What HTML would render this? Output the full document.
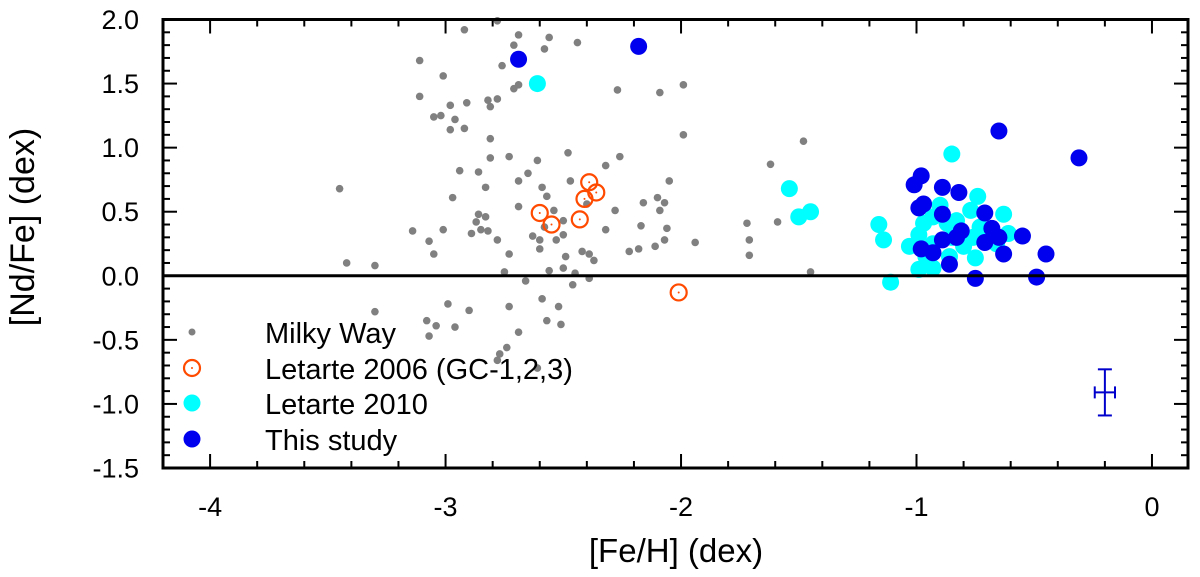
<!DOCTYPE html>
<html><head><meta charset="utf-8"><style>
body{margin:0;background:#fff;}
svg{display:block;font-family:"Liberation Sans",Arial,sans-serif;}
</style></head><body>
<svg id="chart" width="1200" height="577" viewBox="0 0 1200 577" xmlns="http://www.w3.org/2000/svg"></svg>
<script>
const mwX=[-2.78,-2.92,-2.71,-2.69,-2.56,-2.58,-2.44,-3.11,-2.76,-3.01,-2.71,-2.69,-2.27,-2.09,-3.11,-2.98,-2.91,-2.82,-2.78,-2.81,-3.05,-3.02,-2.96,-2.98,-2.92,-2.81,-2.81,-2.73,-2.61,-2.48,-2.26,-2.94,-2.86,-2.65,-2.69,-2.47,-2.32,-2.05,-3.45,-2.83,-2.59,-2.57,-2.40,-2.97,-2.69,-2.54,-2.28,-2.16,-2.10,-2.07,-2.09,-2.86,-2.83,-2.87,-2.85,-2.82,-2.58,-2.50,-2.17,-2.06,-3.14,-3.01,-2.89,-2.78,-2.63,-2.60,-2.53,-2.50,-2.32,-3.07,-3.05,-2.73,-2.60,-2.42,-2.39,-2.37,-2.49,-2.22,-2.18,-2.11,-2.07,-3.42,-3.30,-2.75,-2.56,-2.50,-2.45,-2.66,-2.39,-2.46,-2.99,-2.90,-2.73,-2.59,-2.52,-3.30,-3.08,-3.04,-2.96,-2.57,-2.51,-2.69,-3.07,-2.74,-2.77,-2.78,-2.61,-1.99,-1.99,-1.48,-1.62,-1.72,-1.59,-1.94,-1.71,-1.71,-1.45];
const mwY=[1.99,1.92,1.80,1.88,1.86,1.77,1.82,1.68,1.64,1.56,1.46,1.49,1.45,1.43,1.40,1.33,1.35,1.37,1.38,1.32,1.24,1.25,1.22,1.14,1.15,1.07,0.92,0.93,0.90,0.96,0.93,0.82,0.81,0.80,0.74,0.74,0.86,0.74,0.68,0.69,0.69,0.62,0.56,0.61,0.54,0.51,0.51,0.57,0.61,0.57,0.51,0.48,0.46,0.42,0.36,0.35,0.38,0.43,0.39,0.37,0.35,0.36,0.33,0.28,0.31,0.28,0.28,0.32,0.36,0.27,0.17,0.17,0.21,0.19,0.17,0.12,0.15,0.19,0.21,0.23,0.28,0.10,0.08,0.03,0.04,0.06,0.02,-0.04,-0.02,-0.07,-0.22,-0.27,-0.24,-0.18,-0.24,-0.28,-0.35,-0.39,-0.40,-0.35,-0.38,-0.44,-0.47,-0.56,-0.61,-0.66,-0.72,1.49,1.10,1.05,0.87,0.41,0.42,0.26,0.28,0.16,0.03];
const l06X=[-2.60,-2.55,-2.43,-2.41,-2.39,-2.36,-2.01];
const l06Y=[0.49,0.40,0.44,0.60,0.73,0.65,-0.13];
const l10X=[-2.61,-1.54,-1.50,-1.45,-1.16,-1.14,-1.11,-0.85,-0.74,-0.63,-0.61,-0.75,-0.99,-0.93,-1.03,-0.90,-0.77,-0.80,-0.97,-0.99,-0.87,-0.83,-0.73,-0.93,-0.66,-0.93,-0.76,-0.86,-0.96,-0.85];
const l10Y=[1.50,0.68,0.46,0.50,0.40,0.28,-0.05,0.95,0.62,0.48,0.33,0.14,0.05,0.06,0.23,0.55,0.51,0.23,0.41,0.32,0.41,0.43,0.38,0.46,0.25,0.25,0.30,0.15,0.15,0.30];
const tsX=[-2.69,-2.18,-0.65,-0.31,-0.98,-1.01,-0.89,-0.82,-0.97,-0.99,-0.89,-0.71,-0.68,-0.81,-0.83,-0.55,-0.65,-0.71,-0.89,-0.98,-0.93,-0.45,-0.63,-0.86,-0.75,-0.49];
const tsY=[1.69,1.79,1.13,0.92,0.78,0.71,0.69,0.65,0.56,0.53,0.48,0.49,0.37,0.35,0.30,0.31,0.30,0.26,0.28,0.21,0.18,0.17,0.17,0.09,-0.02,-0.01];
const errX=[-0.20], errY=[-0.91], errDX=[0.043], errDY=[0.18];
const xTicks=[-4,-3,-2,-1,0];
const yTicks=[2.0,1.5,1.0,0.5,0.0,-0.5,-1.0,-1.5];
const legendLabels=["Milky Way","Letarte 2006 (GC-1,2,3)","Letarte 2010","This study"];

const L=163,R=1188,T=19.5,B=468;
const X0=-4.2,X1=0.153,Y0=-1.5,Y1=2.0;
const sx=v=>L+(v-X0)/(X1-X0)*(R-L);
const sy=v=>B-(v-Y0)/(Y1-Y0)*(B-T);
const svg=document.getElementById('chart');
const NS='http://www.w3.org/2000/svg';
function mk(tag,attrs,parent){const e=document.createElementNS(NS,tag);for(const k in attrs)e.setAttribute(k,attrs[k]);(parent||svg).appendChild(e);return e;}

const gMW=mk('g',{});


mwX.forEach((x,i)=>{const c=mk('circle',{cx:sx(x),cy:sy(mwY[i]),r:3.8,fill:'#808080'},gMW);

});
const gL10=mk('g',{});


l10X.forEach((x,i)=>{const c=mk('circle',{cx:sx(x),cy:sy(l10Y[i]),r:8.5,fill:'#00ffff'},gL10);

});
const gTS=mk('g',{});


tsX.forEach((x,i)=>{const c=mk('circle',{cx:sx(x),cy:sy(tsY[i]),r:8.5,fill:'#0000ee'},gTS);

});
const gL06=mk('g',{});


l06X.forEach((x,i)=>{const c=mk('circle',{cx:sx(x),cy:sy(l06Y[i]),r:8,fill:'none',stroke:'#ff4a00','stroke-width':2.2},gL06);


mk('circle',{cx:sx(x),cy:sy(l06Y[i]),r:1,fill:'#ff4a00'},gL06);});

errX.forEach((x,i)=>{const g=mk('g',{stroke:'#0000cc','stroke-width':2});


const cx=sx(x),cy=sy(errY[i]),y1=sy(errY[i]+errDY[i]),y2=sy(errY[i]-errDY[i]);
const x1=sx(x-errDX[i]),x2=sx(x+errDX[i]);
mk('line',{x1:cx,y1:y1,x2:cx,y2:y2},g);
mk('line',{x1:cx-7,y1:y1,x2:cx+7,y2:y1},g);
mk('line',{x1:cx-7,y1:y2,x2:cx+7,y2:y2},g);
mk('line',{x1:x1,y1:cy,x2:x2,y2:cy},g);
mk('line',{x1:x1,y1:cy-6,x2:x1,y2:cy+6},g);
mk('line',{x1:x2,y1:cy-6,x2:x2,y2:cy+6},g);});

const zl=mk('line',{x1:L,y1:sy(0),x2:R,y2:sy(0),stroke:'#000','stroke-width':3});



const ax=mk('g',{stroke:'#000','stroke-width':2});


mk('rect',{x:L,y:T,width:R-L,height:B-T,fill:'none','stroke-width':3},ax);
for(let k=-21;k<=0;k++){const v=k*0.2,x=sx(v);if(x<L+1)continue;const maj=Math.abs(v-Math.round(v))<1e-6;const len=maj?14:7;
mk('line',{x1:x,y1:B,x2:x,y2:B-len},ax);mk('line',{x1:x,y1:T,x2:x,y2:T+len},ax);}
for(let k=-15;k<=20;k++){const v=k*0.1,y=sy(v);const maj=Math.abs(v*2-Math.round(v*2))<1e-6;const len=maj?14:7;
mk('line',{x1:L,y1:y,x2:L+len,y2:y},ax);mk('line',{x1:R,y1:y,x2:R-len,y2:y},ax);}

xTicks.forEach(v=>{const t=mk('text',{x:sx(v),y:516,'text-anchor':'middle','font-size':27,fill:'#000'});t.textContent=String(v);

});
yTicks.forEach(v=>{const t=mk('text',{x:139,y:sy(v)+9.5,'text-anchor':'end','font-size':27,fill:'#000'});t.textContent=v.toFixed(1);

});
const xt=mk('text',{x:676,y:562,'text-anchor':'middle','font-size':33,fill:'#000'});xt.textContent='[Fe/H] (dex)';


const yt=mk('text',{x:0,y:0,transform:'translate(34,227) rotate(-90)','text-anchor':'middle','font-size':34,fill:'#000'});yt.textContent='[Nd/Fe] (dex)';



const lg=mk('g',{});


const ly=[332,368,403,439];
legendLabels.forEach((s,i)=>{const e=mk('g',{},lg);


const mx=192,my=ly[i];
if(i===0)mk('circle',{cx:mx,cy:my,r:3.5,fill:'#808080'},e);
if(i===1){mk('circle',{cx:mx,cy:my,r:8,fill:'none',stroke:'#ff4a00','stroke-width':2.2},e);mk('circle',{cx:mx,cy:my,r:1,fill:'#ff4a00'},e);}
if(i===2)mk('circle',{cx:mx,cy:my,r:8.5,fill:'#00ffff'},e);
if(i===3)mk('circle',{cx:mx,cy:my,r:8.5,fill:'#0000ee'},e);
const t=mk('text',{x:265,y:my+11,'font-size':29,fill:'#000'},e);t.textContent=s;});
</script>
</body></html>
